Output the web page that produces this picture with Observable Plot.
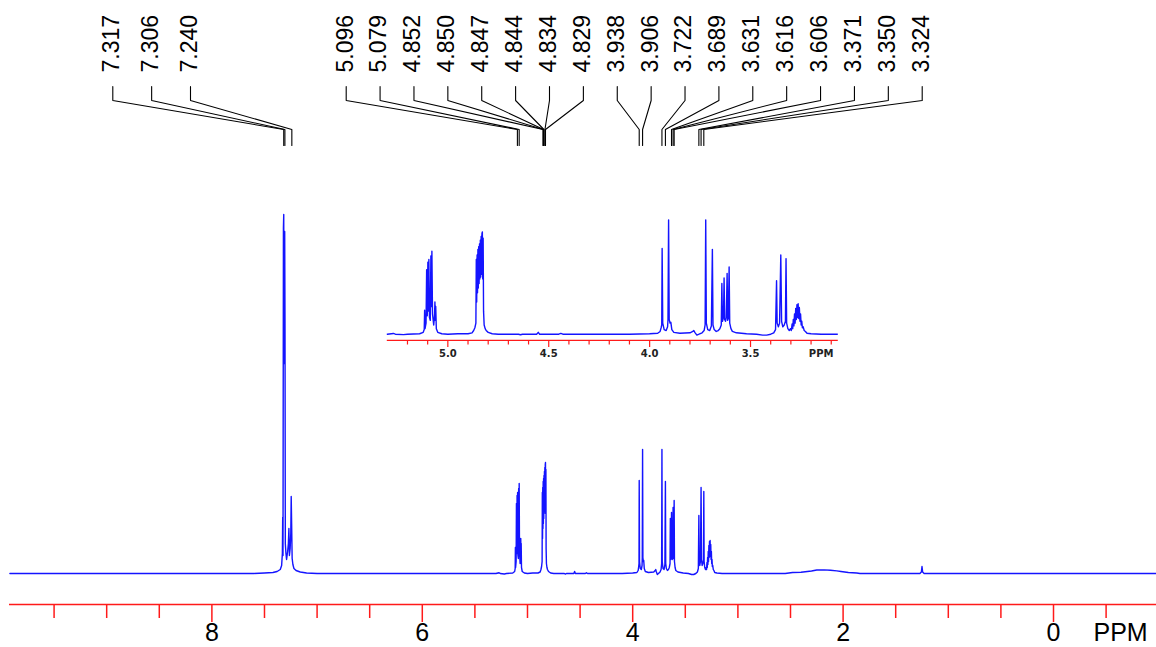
<!DOCTYPE html>
<html><head><meta charset="utf-8">
<script src="https://cdn.jsdelivr.net/npm/d3@7"></script>
<script src="https://cdn.jsdelivr.net/npm/@observablehq/plot@0.6"></script>
<style>
html,body{margin:0;padding:0;background:#fff;}
#chart{position:relative;width:1156px;height:647px;overflow:hidden;background:#fff;}
#chart svg{position:absolute;left:0;top:0;}
</style></head><body><div id="chart"></div>
<script>
// ---- spectrum (chemical shift in ppm, intensity) ----
const shift = [
  9.92, 8.00, 7.60, 7.50, 7.42, 7.38, 7.35, 7.337, 7.330, 7.327, 7.324, 7.320, 7.317, 7.314, 7.311, 7.308, 7.305, 7.302,
  7.296, 7.290, 7.280, 7.273, 7.268, 7.263, 7.256, 7.250, 7.246, 7.242, 7.237, 7.230, 7.22, 7.20, 7.16, 7.10, 7.00,
  5.30, 5.27, 5.26, 5.22, 5.20, 5.14, 5.122, 5.117, 5.115, 5.113, 5.108, 5.105, 5.102, 5.099, 5.097, 5.094, 5.091,
  5.087, 5.084, 5.081, 5.079, 5.076, 5.070, 5.066, 5.064, 5.062, 5.060, 5.057, 5.050, 5.03, 5.00,
  4.95, 4.90, 4.88, 4.872, 4.866, 4.861, 4.859, 4.857, 4.855, 4.853, 4.851, 4.849, 4.847, 4.845, 4.843, 4.841, 4.839,
  4.837, 4.835, 4.833, 4.831, 4.829, 4.827, 4.825, 4.823, 4.820, 4.815, 4.81, 4.80, 4.78, 4.75, 4.65, 4.64, 4.63,
  4.56, 4.552, 4.545, 4.45, 4.44, 4.43, 4.10, 4.00, 3.96, 3.948, 3.943, 3.940, 3.938, 3.935, 3.928, 3.918, 3.911,
  3.909, 3.906, 3.903, 3.899, 3.895, 3.890, 3.880, 3.85, 3.80, 3.786, 3.781, 3.776, 3.766, 3.755, 3.74, 3.730, 3.725,
  3.722, 3.719, 3.712, 3.702, 3.694, 3.689, 3.686, 3.680, 3.670, 3.660, 3.652, 3.645, 3.642, 3.639, 3.634, 3.631,
  3.628, 3.624, 3.620, 3.616, 3.613, 3.610, 3.606, 3.603, 3.597, 3.590, 3.57, 3.52, 3.47, 3.44, 3.42, 3.40, 3.385,
  3.376, 3.371, 3.368, 3.362, 3.356, 3.350, 3.346, 3.340, 3.333, 3.327, 3.324, 3.321, 3.315, 3.308, 3.302, 3.298,
  3.294, 3.291, 3.288, 3.285, 3.282, 3.279, 3.276, 3.273, 3.270, 3.267, 3.264, 3.261, 3.258, 3.255, 3.252, 3.249,
  3.246, 3.243, 3.239, 3.234, 3.228, 3.22, 3.20, 3.15, 2.55, 2.48, 2.40, 2.34, 2.30, 2.25, 2.18, 2.12, 2.06, 2.02,
  1.95, 1.87, 1.84, 1.27, 1.256, 1.250, 1.244, 1.23, -0.98
];
const signal = [
  0, 0, 0, 0.5, 1, 2, 4, 8, 20, 56, 18, 345, 359, 210, 330, 342, 250, 30,
  20, 14, 22, 30, 45, 18, 25, 40, 77, 50, 15, 9, 5, 3, 1.5, 0.5, 0,
  0, 0.8, 0, -0.5, 0, 0.5, 2, 5, 26, 6, 12, 70, 20, 78, 25, 81, 18,
  15, 85, 30, 90, 22, 10, 20, 35, 15, 30, 6, 2, 0.5, 0,
  0.5, 0.5, 1.5, 4, 7, 12, 81, 35, 86, 45, 92, 50, 95, 55, 98, 60, 102,
  62, 106, 65, 109, 111, 60, 104, 25, 10, 6, 4, 2, 0.5, 0, 0, -0.6, 0,
  0, 2, 0, 0, 0.8, 0, 0, 0.5, 1, 3, 7, 10, 93, 12, 5, 4, 8,
  16, 124, 16, 12, 13, 5, 2, 1, 1.5, 3, 4, 2, -1, 0, 1.5, 4, 10,
  124, 12, 5, 4, 9, 92, 10, 5, 3, 4, 6, 10, 55, 14, 18, 61,
  16, 14, 18, 66, 15, 17, 73, 12, 6, 3, 1.5, 0.5, 0, -1, -1, 0, 1.5,
  5, 58, 12, 8, 12, 86, 14, 8, 10, 14, 82, 12, 6, 4, 6, 4,
  11, 6, 16, 9, 22, 12, 28, 16, 32, 18, 33, 17, 29, 14, 22, 10,
  14, 7, 8, 4, 3, 1, 0.5, 0, 0, 1, 1.2, 2, 2.5, 3.5, 3.6, 3.3, 2.6, 2,
  1, 0.5, 0, 0, 1.5, 7, 1.5, 0, 0
];

// ---- peak labels (ppm) ----
const labelsAromatic = [7.317, 7.306, 7.240];
const labelsAnomeric = [5.096, 5.079, 4.852, 4.850, 4.847, 4.844, 4.834, 4.829];
const labelsRing = [3.938, 3.906, 3.722, 3.689, 3.631, 3.616, 3.606, 3.371, 3.350, 3.324];

// ---- axis ticks ----
const majorTicks = [8, 6, 4, 2, 0];
const minorTicks = [9.5, 9, 8.5, 7.5, 7, 6.5, 5.5, 5, 4.5, 3.5, 3, 2.5, 1.5, 1, 0.5, -0.5];
const axisUnit = ["PPM"];
const insetMajorTicks = [5.0, 4.5, 4.0, 3.5];
const insetMinorTicks = [5.2, 5.1, 4.9, 4.8, 4.7, 4.6, 4.4, 4.3, 4.2, 4.1, 3.9, 3.8, 3.7, 3.6, 3.4, 3.3, 3.2, 3.1];

// ---- build ----
const spectrum = shift.map((s, i) => ({shift: s, signal: signal[i]}));
const W = 1156, H = 647;
const xDomain = [9.92, -0.98], xRange = [9.4, 1156.1];
const xs = Plot.scale({x: {domain: xDomain, range: xRange}});
const RED = "#ff1a1a", BLUE = "#1414ff";
const FONT = "Liberation Sans, Arial, sans-serif";

// label layout: evenly spread slots (pixels) per cluster
const spread = (n, a, b) => d3.range(n).map(i => n === 1 ? a : a + (b - a) * i / (n - 1));
const slotsA = spread(labelsAromatic.length, 112.3, 190);
const slotsB = spread(labelsAnomeric.length + labelsRing.length, 345.7, 921.7);
const labels = [
  ...labelsAromatic.map((v, i) => ({v, sx: slotsA[i]})),
  ...[...labelsAnomeric, ...labelsRing].map((v, i) => ({v, sx: slotsB[i]}))
].map((d, i) => ({...d, id: i, lx: xs.invert(d.sx)}));
const connectors = labels.flatMap(d => [
  {id: d.id, x: d.lx, y: 487}, {id: d.id, x: d.lx, y: 473},
  {id: d.id, x: d.v, y: 444}, {id: d.id, x: d.v, y: 428}
]);

const main = Plot.plot({
  width: W, height: H,
  marginLeft: 9, marginRight: 0, marginTop: 0, marginBottom: 0,
  x: {domain: xDomain, range: xRange, axis: null},
  y: {domain: [0, 359], range: [573, 214], axis: null},
  style: {background: "white"},
  marks: [
    Plot.line(spectrum, {x: "shift", y: "signal", stroke: BLUE, strokeWidth: 1.4}),
    Plot.ruleY([-31], {stroke: RED, strokeWidth: 1.6}),
    Plot.ruleX(minorTicks, {x: d => d, y1: -31, y2: -45, stroke: RED, strokeWidth: 1.5}),
    Plot.ruleX(majorTicks, {x: d => d, y1: -31, y2: -49, stroke: RED, strokeWidth: 1.5}),
    Plot.text(majorTicks, {x: d => d, y: -67, text: d => String(d), lineAnchor: "bottom", fontSize: 25, fontFamily: FONT, fill: "black"}),
    Plot.text(axisUnit, {x: -0.38, y: -67, text: d => d, textAnchor: "start", lineAnchor: "bottom", fontSize: 25, fontFamily: FONT, fill: "black"}),
    Plot.line(connectors, {x: "x", y: "y", z: "id", stroke: "black", strokeWidth: 1.1}),
    Plot.text(labels, {x: "lx", y: 501, text: d => d.v.toFixed(3), rotate: -90, textAnchor: "start", lineAnchor: "middle", fontSize: 23, fontFamily: FONT, fill: "black", dx: -1})
  ]
});

const inset = Plot.plot({
  width: W, height: H,
  marginLeft: 386.8, marginRight: 318.2, marginTop: 213.84, marginBottom: 305.92,
  x: {domain: [5.30, 3.065], axis: null},
  y: {domain: [-8, 130], axis: null},
  style: {background: "none"},
  marks: [
    Plot.line(spectrum, {x: "shift", y: "signal", stroke: BLUE, strokeWidth: 1.4, clip: true}),
    Plot.ruleY([-6.8], {stroke: RED, strokeWidth: 1.3}),
    Plot.ruleX(insetMinorTicks, {x: d => d, y1: -6.8, y2: -11.7, stroke: RED, strokeWidth: 1.2}),
    Plot.ruleX(insetMajorTicks, {x: d => d, y1: -6.8, y2: -14.4, stroke: RED, strokeWidth: 1.2}),
    Plot.text(insetMajorTicks, {x: d => d, y: -24.2, text: d => d.toFixed(1), lineAnchor: "bottom", fontSize: 10, fontWeight: "bold", fontFamily: "DejaVu Sans", fill: "#222"}),
    Plot.text(axisUnit, {x: 3.15, y: -24.2, text: d => d, lineAnchor: "bottom", fontSize: 10, fontWeight: "bold", fontFamily: "DejaVu Sans", fill: "#222"})
  ]
});

const chart = document.getElementById("chart");
chart.appendChild(main);
chart.appendChild(inset);
</script></body></html>
